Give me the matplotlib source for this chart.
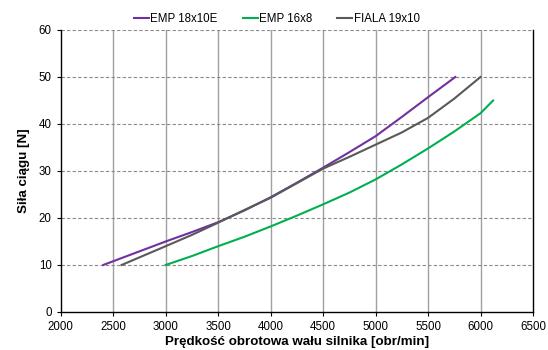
import matplotlib
matplotlib.use("Agg")
import matplotlib.pyplot as plt

plt.rcParams['font.family'] = ['Liberation Sans', 'DejaVu Sans']

emp18_x = [2405, 2500, 3000, 3250, 3500, 3750, 4000, 4250, 4500, 4750, 5000, 5250, 5500, 5760]
emp18_y = [10, 10.8, 15.0, 17.0, 19.1, 21.6, 24.4, 27.5, 30.7, 34.0, 37.4, 41.5, 45.7, 50]
fiala_x = [2580, 3000, 3250, 3500, 3750, 4000, 4250, 4500, 4750, 5000, 5250, 5500, 5750, 6000]
fiala_y = [10, 14.0, 16.4, 19.0, 21.7, 24.3, 27.4, 30.5, 33.0, 35.6, 38.2, 41.3, 45.4, 50]
emp16_x = [3000, 3250, 3500, 3750, 4000, 4250, 4500, 4750, 5000, 5250, 5500, 5750, 6000, 6120]
emp16_y = [10, 11.9, 14.0, 16.0, 18.2, 20.5, 22.9, 25.4, 28.2, 31.4, 34.8, 38.4, 42.3, 45]
labels = ["EMP 18x10E", "EMP 16x8", "FIALA 19x10"]

fig = plt.figure(figsize=(5.48, 3.5), dpi=100)
ax = fig.add_axes([0.1108, 0.1086, 0.8618, 0.8057])

for x in range(2500, 6500, 500):
    ax.axvline(x, color='#a0a0a0', lw=1.0, zorder=1)
for y in range(10, 70, 10):
    ax.axhline(y, color='#8a8a8a', lw=0.8, ls=(0, (3, 2)), zorder=1)

l1, = ax.plot(emp18_x, emp18_y, color='#7030A0', lw=1.5, zorder=3)
l2, = ax.plot(emp16_x, emp16_y, color='#00B050', lw=1.5, zorder=3)
l3, = ax.plot(fiala_x, fiala_y, color='#595959', lw=1.5, zorder=3)

ax.set_xlim(2000, 6500)
ax.set_ylim(0, 60)
ax.set_xticks(range(2000, 7000, 500))
ax.set_yticks(range(0, 70, 10))
ax.tick_params(axis='both', labelsize=8.3, direction='out', length=3, width=0.8, color='black')
ax.spines['top'].set_visible(False)
for s in ['left', 'bottom', 'right']:
    ax.spines[s].set_color('black')
    ax.spines[s].set_linewidth(1.0)

ax.set_xlabel("Prędkość obrotowa wału silnika [obr/min]", fontsize=9.6, fontweight='bold', labelpad=2)
ax.set_ylabel("Siła ciągu [N]", fontsize=9.6, fontweight='bold', labelpad=6)

fig.legend([l1, l2, l3], labels, loc='center', bbox_to_anchor=(0.505, 0.946), ncol=3,
           frameon=False, fontsize=8.3, handlelength=1.3, handletextpad=0.1, columnspacing=2.2)

fig.savefig("out.png", dpi=100)
